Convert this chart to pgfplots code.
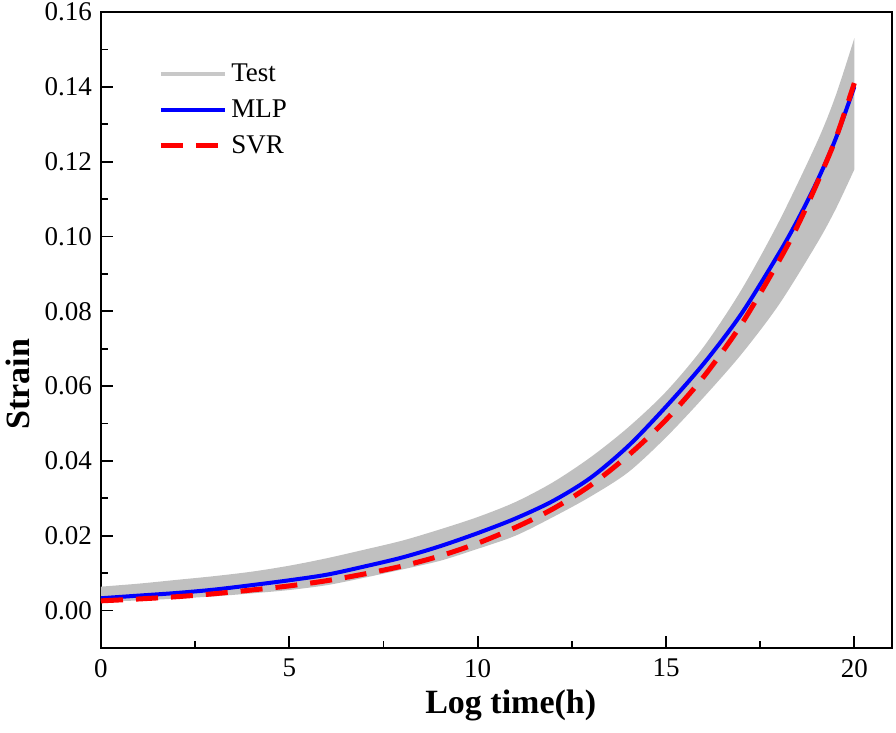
\documentclass[border=0pt]{standalone}
\usepackage{pgfplots}
\pgfplotsset{compat=1.18}
\usepgfplotslibrary{fillbetween}
\usepackage{fontspec}
\setmainfont{Liberation Serif}
\definecolor{bandgray}{RGB}{192,192,192}
\definecolor{legray}{RGB}{200,200,200}
\begin{document}
\begin{tikzpicture}
\begin{axis}[
  name=ax,
  scale only axis,
  width=395.5pt, height=318pt,
  xmin=0, xmax=21, ymin=-0.01, ymax=0.16,
  xtick={0,5,10,15,20},
  ytick={0,0.02,0.04,0.06,0.08,0.10,0.12,0.14,0.16},
  minor x tick num=1, minor y tick num=1,
  tick align=inside,
  xtick pos=bottom, ytick pos=left,
  major tick length=6pt, minor tick length=3.5pt,
  axis line style={line width=0.9pt},
  every tick/.style={black, line width=0.9pt},
  /pgf/number format/assume math mode=true,
  yticklabel style={/pgf/number format/fixed, /pgf/number format/fixed zerofill, /pgf/number format/precision=2, font=\fontsize{13.5pt}{16pt}\selectfont, xshift=-1pt},
  xticklabel style={font=\fontsize{13.5pt}{16pt}\selectfont, yshift=-2pt},
  scaled y ticks=false,
  xlabel={Log time(h)},
  ylabel={Strain},
  xlabel style={font=\fontsize{17pt}{20pt}\selectfont\bfseries, at={(axis description cs:0.518,0)}, anchor=center, yshift=-28.5pt},
  ylabel style={font=\fontsize{17pt}{20pt}\selectfont\bfseries, at={([xshift=-41.5pt]axis description cs:0,0.415)}, anchor=center},
  legend style={at={(rel axis cs:0.072,0.925)}, anchor=north west, draw=none, fill=none,
    font=\fontsize{13.5pt}{16pt}\selectfont, row sep=3.5pt, inner sep=0pt},
  legend cell align=left,
  legend image code/.code={\draw[#1] (0pt,0pt) -- (32pt,0pt);},
  clip=false,
]
\addplot[name path=up, draw=none, smooth, forget plot] coordinates {
(0,0.0064) (1,0.0072) (2,0.0082) (3,0.0092) (4,0.0104) (5,0.0120) (6,0.0140) (7,0.0163) (8,0.0187) (9,0.0217) (10,0.0250) (11,0.0290) (12,0.0343) (13,0.0410) (14,0.0490) (15,0.0585) (16,0.0705) (17,0.0857) (18,0.1040) (19,0.1250) (19.5,0.1375) (20,0.1530)
};
\addplot[name path=lo, draw=none, smooth, forget plot] coordinates {
(0,0.0024) (1,0.0027) (2,0.0032) (3,0.0038) (4,0.0046) (5,0.0055) (6,0.0068) (7,0.0088) (8,0.0110) (9,0.0133) (10,0.0165) (11,0.0200) (12,0.0250) (13,0.0305) (14,0.0370) (15,0.0463) (16,0.0570) (17,0.0685) (18,0.0818) (19,0.0980) (19.5,0.1072) (20,0.1179)
};
\addplot[fill=bandgray, draw=none, forget plot] fill between[of=up and lo];
\addlegendimage{legray, line width=2pt}
\addlegendentry{Test}
\addplot[color=blue, line width=2pt, smooth] coordinates {
(0,0.0033) (1,0.0040) (2,0.0047) (3,0.0056) (4,0.0068) (5,0.0081) (6,0.0096) (7,0.0118) (8,0.0142) (9,0.0172) (10,0.0207) (11,0.0246) (12,0.0293) (13,0.0355) (14,0.0440) (15,0.0545) (16,0.0660) (17,0.0793) (18,0.0955) (18.5,0.1045) (19,0.1145) (19.5,0.1260) (20,0.1400)
};
\addlegendentry{MLP}
\addplot[color=red, line width=2.5pt, dash pattern=on 11pt off 6.5pt, smooth] coordinates {
(0,0.0026) (1,0.0031) (2,0.0037) (3,0.0045) (4,0.0055) (5,0.0066) (6,0.0080) (7,0.0098) (8,0.0119) (9,0.0146) (10,0.0180) (11,0.0222) (12,0.0272) (13,0.0335) (14,0.0415) (15,0.0510) (16,0.0625) (17,0.0765) (18,0.0935) (18.5,0.1030) (19,0.1140) (19.5,0.1260) (20,0.1410)
};
\addlegendentry{SVR}
\end{axis}
\pgfresetboundingbox
\path ([xshift=-50.5pt,yshift=-42.5pt]ax.south west) rectangle ([xshift=2pt,yshift=6pt]ax.north east);
\end{tikzpicture}
\end{document}
